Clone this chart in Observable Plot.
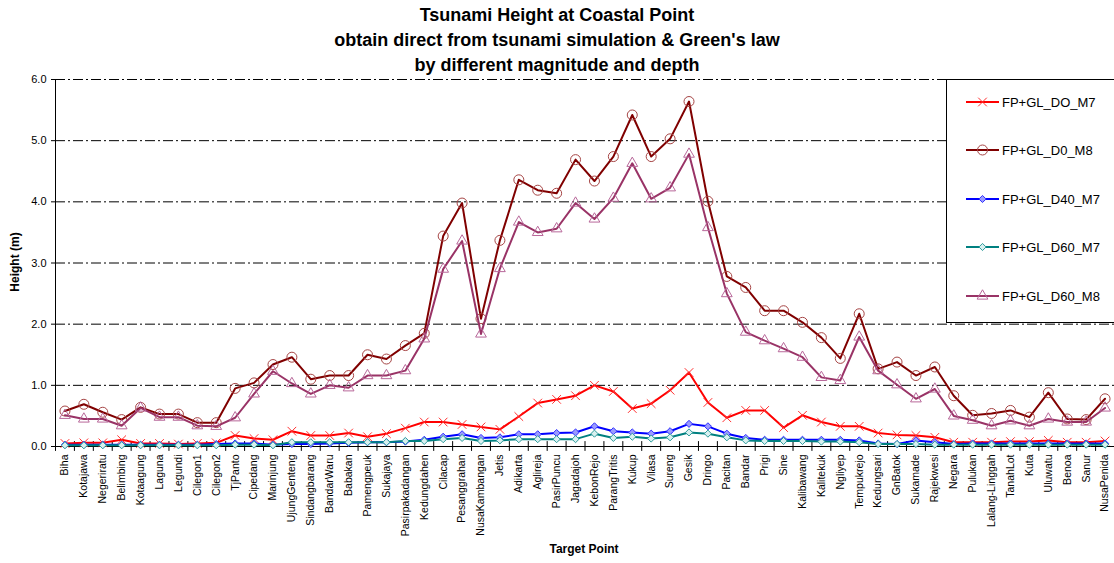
<!DOCTYPE html>
<html>
<head>
<meta charset="utf-8">
<script src="https://cdn.jsdelivr.net/npm/d3@7"></script>
<script src="https://cdn.jsdelivr.net/npm/@observablehq/plot@0.6"></script>
<style>
  html, body { margin: 0; padding: 0; background: #fff; }
  #wrap { position: relative; width: 1114px; height: 563px; overflow: hidden; font-family: "Liberation Sans", Arial, sans-serif; }
  #title { position: absolute; left: 0; top: 3px; width: 1114px; text-align: center; font-weight: bold; font-size: 18px; line-height: 25px; color: #000; }
  #ylab { position: absolute; left: 15px; top: 262px; transform: translate(-50%, -50%) rotate(-90deg); font-weight: bold; font-size: 12px; white-space: nowrap; }
  #xlab { position: absolute; left: 584px; top: 549px; transform: translate(-50%, -50%); font-weight: bold; font-size: 12px; white-space: nowrap; }
  #legend { position: absolute; left: 946px; top: 79px; width: 172px; height: 242px; border: 1px solid #000; background: #fff; }
  .lg { position: absolute; left: 0; height: 20px; display: flex; align-items: center; font-size: 13px; white-space: nowrap; }
  .lg svg { display: block; margin-left: 19px; margin-right: 2px; }
</style>
</head>
<body>
<div id="wrap">
  <div id="chart"></div>
  <div id="title">Tsunami Height at Coastal Point<br>obtain direct from tsunami simulation &amp; Green's law<br>by different magnitude and depth</div>
  <div id="ylab">Height (m)</div>
  <div id="xlab">Target Point</div>
  <div id="legend"></div>
</div>
<script>
const cats = ["Biha","Kotajawa","Negeriratu","Belimbing","Kotaagung","Laguna","Legundi","Cilegon1","Cilegon2","TjPanto",
  "Cipedang","Marinjung","UjungGenteng","Sindangbarang","BandarWaru","Babakan","Pamengpeuk","Sukajaya","Pasirpakadangan","Kedungdahen",
  "Cilacap","Pesanggrahan","NusaKambangan","Jetis","Adikarta","Aglireja","PasirPuncu","Jagadajoh","KebonRejo","ParangTritis",
  "Kukup","Vilasa","Sureng","Gesik","Dringo","Pacitan","Bandar","Prigi","Sine","Kalibawang",
  "Kalitekuk","Ngliyep","Tempukrejo","Kedungsari","GnBatok","Sukamade","Rajekwesi","Negara","Pulukan","Lalang-Linggah",
  "TanahLot","Kuta","Uluwatu","Benoa","Sanur","NusaPenida"];

const d0m7 = [0.05,0.06,0.06,0.11,0.05,0.05,0.04,0.05,0.06,0.18, 0.13,0.11,0.25,0.18,0.18,0.22,0.16,0.21,0.30,0.40,
  0.40,0.36,0.32,0.28,0.49,0.71,0.77,0.83,1.00,0.90, 0.62,0.70,0.92,1.21,0.72,0.47,0.59,0.59,0.31,0.51,
  0.40,0.33,0.33,0.22,0.19,0.18,0.15,0.07,0.07,0.07, 0.08,0.08,0.10,0.07,0.07,0.09];
const d0m8 = [0.58,0.69,0.56,0.44,0.64,0.53,0.53,0.39,0.39,0.95, 1.04,1.34,1.46,1.10,1.16,1.16,1.50,1.43,1.65,1.85,
  3.44,3.98,2.09,3.37,4.36,4.19,4.14,4.69,4.34,4.74, 5.42,4.74,5.03,5.64,4.01,2.78,2.60,2.22,2.22,2.03,
  1.78,1.44,2.17,1.27,1.38,1.16,1.30,0.83,0.51,0.54, 0.59,0.48,0.88,0.45,0.44,0.78];
const d40m7 = [0.03,0.03,0.03,0.03,0.03,0.03,0.03,0.03,0.04,0.05, 0.05,0.03,0.04,0.04,0.05,0.06,0.07,0.07,0.08,0.11,
  0.16,0.20,0.14,0.15,0.20,0.20,0.22,0.23,0.33,0.25, 0.23,0.21,0.25,0.37,0.33,0.21,0.14,0.11,0.11,0.11,
  0.11,0.11,0.10,0.05,0.04,0.10,0.07,0.04,0.05,0.05, 0.05,0.05,0.05,0.05,0.05,0.05];
const d60m7 = [0.02,0.02,0.02,0.02,0.02,0.02,0.02,0.02,0.02,0.03, 0.03,0.02,0.07,0.07,0.07,0.07,0.07,0.07,0.09,0.09,
  0.12,0.14,0.09,0.10,0.12,0.12,0.12,0.12,0.21,0.14, 0.16,0.13,0.15,0.23,0.21,0.15,0.10,0.09,0.09,0.09,
  0.08,0.08,0.07,0.04,0.04,0.04,0.03,0.03,0.03,0.03, 0.03,0.03,0.03,0.03,0.03,0.03];
const d60m8 = [0.51,0.45,0.45,0.34,0.63,0.48,0.48,0.34,0.33,0.47, 0.86,1.23,1.03,0.86,1.00,0.96,1.16,1.16,1.24,1.76,
  2.90,3.36,1.84,2.91,3.67,3.50,3.56,3.98,3.72,4.06, 4.63,4.05,4.23,4.78,3.58,2.50,1.87,1.73,1.60,1.46,
  1.13,1.08,1.79,1.24,1.01,0.78,0.94,0.50,0.43,0.34, 0.42,0.34,0.45,0.40,0.40,0.63];

const seriesNames = ["FP+GL_DO_M7","FP+GL_D0_M8","FP+GL_D40_M7","FP+GL_D60_M7","FP+GL_D60_M8"];
const yTicks = [0,1,2,3,4,5,6];

const symTimes = d3.symbolTimes || d3.symbolCross;
const symDiamond = d3.symbolDiamond2 || d3.symbolDiamond;

const styles = [
  {line: "#ff0000", symbol: symTimes, r: 4, stroke: "#ff3030", fill: "none", sw: 1},
  {line: "#800000", symbol: d3.symbolCircle, r: 5, stroke: "#a64545", fill: "none", sw: 1},
  {line: "#0000ff", symbol: symDiamond, r: 3.2, stroke: "#3030ff", fill: "#9a9aff", sw: 1},
  {line: "#008080", symbol: symDiamond, r: 3.2, stroke: "#2e9c9c", fill: "#d8f0f0", sw: 1},
  {line: "#993366", symbol: d3.symbolTriangle, r: 4, stroke: "#b8689a", fill: "none", sw: 1}
];
const values = [d0m7, d0m8, d40m7, d60m7, d60m8];

const W = 1114, H = 563, ML = 55, MR = 0, MT = 79, MB = 117;
const bw = (W - ML - MR) / cats.length;

const marks = [
  Plot.ruleY(yTicks.slice(1), {stroke: "#000", strokeWidth: 1, strokeDasharray: "10,3,2,3"}),
  Plot.ruleY([0], {stroke: "#000", strokeWidth: 1}),
  Plot.ruleX([cats[0]], {dx: -bw / 2, y1: 0, y2: 6, stroke: "#000"}),
  Plot.ruleX(cats, {dx: -bw / 2, y1: -0.08, y2: 0.08, stroke: "#000"}),
  Plot.ruleX([cats[cats.length - 1]], {dx: bw / 2, y1: -0.08, y2: 0.08, stroke: "#000"})
];

values.forEach((arr, k) => {
  const rows = cats.map((c, i) => ({cat: c, v: arr[i], series: seriesNames[k]}));
  const s = styles[k];
  marks.push(Plot.line(rows, {x: "cat", y: "v", stroke: s.line, strokeWidth: 2}));
  marks.push(Plot.dot(rows, {x: "cat", y: "v", symbol: s.symbol, r: s.r, stroke: s.stroke, fill: s.fill, strokeWidth: s.sw}));
});

const chart = Plot.plot({
  width: W, height: H,
  marginLeft: ML, marginRight: MR, marginTop: MT, marginBottom: MB,
  style: {fontFamily: "'Liberation Sans', Arial, sans-serif", fontSize: "10.5px", background: "transparent", color: "#000", overflow: "visible"},
  x: {type: "band", domain: cats, padding: 0, tickRotate: -90, tickSize: 0, tickPadding: 8, label: null},
  y: {domain: [0, 6], ticks: yTicks, tickFormat: d3.format(".1f"), tickSize: 4, tickPadding: 5, label: null},
  marks
});
document.getElementById("chart").appendChild(chart);
d3.select(chart).selectAll("[aria-label='y-axis'] text, [aria-label='y-axis tick label'] text").style("font-size", "11px");

// legend
const lg = d3.select("#legend");
const centers = [22, 70, 119, 167, 216];
seriesNames.forEach((name, k) => {
  const s = styles[k];
  const row = lg.append("div").attr("class", "lg").style("top", (centers[k] - 10) + "px");
  const svg = row.append("svg").attr("width", 34).attr("height", 20);
  svg.append("line").attr("x1", 0).attr("x2", 33).attr("y1", 10).attr("y2", 10).attr("stroke", s.line).attr("stroke-width", 2);
  svg.append("path").attr("transform", "translate(16.5,10)")
    .attr("d", d3.symbol(s.symbol, s.r * s.r * Math.PI)())
    .attr("fill", s.fill).attr("stroke", s.stroke).attr("stroke-width", s.sw);
  row.append("span").text(name);
});
</script>
</body>
</html>
